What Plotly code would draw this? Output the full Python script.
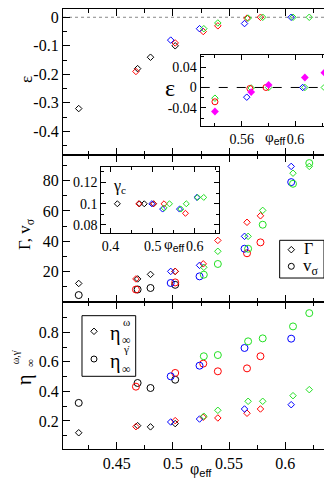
import plotly.graph_objects as go

# ---------------- data ----------------
phi_black = [0.416, 0.4685, 0.48, 0.502]
phi_red = [0.467, 0.502, 0.527, 0.54, 0.566, 0.578]
phi_blue = [0.498, 0.5237, 0.5638, 0.6054]
phi_green = [0.5275, 0.54, 0.567, 0.58, 0.607, 0.6215]

eps_black = [-0.32, -0.18, -0.14, -0.10]
eps_red = [-0.19, -0.09, -0.05, -0.03, -0.003, 0.0]
eps_blue = [-0.08, -0.04, -0.022, 0.0]
eps_green = [-0.04, -0.02, -0.003, 0.0, 0.0, 0.0]

gam_black = [12, 15, 18, 20]
gam_red = [15, 20, 25, 40.5, 52.5, 56.8]
gam_blue = [20, 24, 43.2, 89.5]
gam_green = [22.7, 33.3, 43.2, 60.4, 85, 89.5]

vs_black = [4.3, 8, 9, 11.1]
vs_red = [8, 12.7, None, None, 32, 39.2]
vs_blue = [12.3, 16.7, 35, 79.1]
vs_green = [17.8, 24.9, 35, 50.9, 78, 91.7]

etaw_black = [0.12, 0.168, 0.16, 0.182]
etaw_red = [0.161, 0.202, 0.225, 0.22, 0.252, 0.281]
etaw_blue = [0.193, 0.213, 0.281, 0.31]
etaw_green = [0.232, 0.272, 0.333, 0.333, 0.371, 0.412]

etag_black = [0.322, 0.457, 0.423, 0.479]
etag_red = [0.432, 0.525, 0.588, 0.536, 0.556, 0.638]
etag_blue = [0.502, 0.574, 0.694, 0.757]
etag_green = [0.638, 0.646, 0.739, 0.759, 0.84, 0.93]

gc_black = [0.1, 0.1, 0.1, 0.1]
gc_red = [0.1, 0.1, 0.1, None, None, 0.091]
gc_blue = [0.1, 0.095, 0.095, 0.106]
gc_green = [0.096, 0.1, 0.095, 0.1, 0.106, 0.106]

# inset epsilon (zoom)
in_phi_red = [0.54, 0.566, 0.578]
in_eps_red = [-0.028, -0.002, 0.0]
in_phi_blue = [0.5637, 0.6054]
in_eps_blue = [-0.019, 0.0]
in_phi_green = [0.54, 0.567, 0.58, 0.607, 0.6215]
in_eps_green = [-0.021, -0.001, 0.0, 0.0, 0.0]
in_phi_mag = [0.54, 0.567, 0.58, 0.607, 0.6215]
in_eps_mag = [-0.047, -0.009, 0.005, 0.0195, 0.029]

# tick labels
x_ticks = [0.45, 0.5, 0.55, 0.6]
x_ticktext = ["0.45", "0.5", "0.55", "0.6"]
eps_ticks = [0, -0.1, -0.2, -0.3, -0.4]
eps_ticktext = ["0", "-0.1", "-0.2", "-0.3", "-0.4"]
gam_ticks = [20, 40, 60, 80]
gam_ticktext = ["20", "40", "60", "80"]
eta_ticks = [0.2, 0.4, 0.6, 0.8]
eta_ticktext = ["0.2", "0.4", "0.6", "0.8"]
in1_xticks = [0.56, 0.6]
in1_xticktext = ["0.56", "0.6"]
in1_yticks = [0.04, 0, -0.04]
in1_yticktext = ["0.04", "0", "-0.04"]
in2_xticks = [0.4, 0.5, 0.6]
in2_xticktext = ["0.4", "0.5", "0.6"]
in2_yticks = [0.08, 0.1, 0.12]
in2_yticktext = ["0.08", "0.1", "0.12"]

# legend key placement (paper fractions) and symbols
key_x = [0.8272, 0.8272, 0.1123, 0.1123]
key_y = [0.453, 0.4152, 0.2675, 0.2045]
key_symbols = ["diamond-open", "circle-open", "diamond-open", "circle-open"]

# ---------------- style ----------------
SERIF = "Liberation Serif, Times New Roman, serif"
BLACK, RED, BLUE, GREEN, MAG = "#000000", "#ff0000", "#0000ff", "#22e022", "#ff00ff"

fig = go.Figure()


def add(x, y, color, symbol, xa, ya, size=5, width=1):
    fig.add_trace(go.Scatter(
        x=x, y=y, mode="markers", xaxis=xa, yaxis=ya, showlegend=False,
        hoverinfo="skip" if xa == "x6" else None,
        marker=dict(symbol=symbol, size=size, color=color,
                    line=dict(color=color, width=width)),
    ))


groups = [
    (phi_black, BLACK, eps_black, gam_black, vs_black, etaw_black, etag_black, gc_black),
    (phi_red, RED, eps_red, gam_red, vs_red, etaw_red, etag_red, gc_red),
    (phi_blue, BLUE, eps_blue, gam_blue, vs_blue, etaw_blue, etag_blue, gc_blue),
    (phi_green, GREEN, eps_green, gam_green, vs_green, etaw_green, etag_green, gc_green),
]

for phi, col, eps, gam, vs, ew, eg, gc in groups:
    add(phi, eps, col, "diamond-open", "x3", "y3")
    add(phi, gam, col, "diamond-open", "x2", "y2")
    add(phi, vs, col, "circle-open", "x2", "y2", size=7)
    add(phi, ew, col, "diamond-open", "x", "y")
    add(phi, eg, col, "circle-open", "x", "y", size=7)
    add(phi, gc, col, "diamond-open", "x5", "y5", size=4.6)

add(in_phi_green, in_eps_green, GREEN, "diamond-open", "x4", "y4")
add(in_phi_red, in_eps_red, RED, "circle-open", "x4", "y4", size=6)
add(in_phi_blue, in_eps_blue, BLUE, "diamond-open", "x4", "y4")
add(in_phi_mag, in_eps_mag, MAG, "diamond", "x4", "y4", size=6, width=0)

# legend keys on an invisible overlay axis spanning the plot area
for kx, ky, ks in zip(key_x, key_y, key_symbols):
    add([kx], [ky], BLACK, ks, "x6", "y6", size=5 if "diamond" in ks else 6)

base = dict(showline=True, linecolor="black", linewidth=1.2, mirror="ticks",
            ticks="inside", ticklen=7, tickwidth=1, tickcolor="black",
            showgrid=False, zeroline=False,
            tickfont=dict(family=SERIF, size=16, color="black"))
inset = dict(base, ticklen=5, tickfont=dict(family=SERIF, size=14, color="black"))
hidden = dict(domain=[0, 1], range=[0, 1], visible=False, showgrid=False, zeroline=False,
              fixedrange=True)

XR = [0.402, 0.648]
xminor = dict(ticks="inside", ticklen=4, tickcolor="black", dtick=0.025, tick0=0, showgrid=False)

fig.update_layout(
    width=332, height=480,
    margin=dict(l=55, r=1, t=1, b=39),
    paper_bgcolor="white", plot_bgcolor="rgba(0,0,0,0)",
    xaxis=dict(base, domain=[0, 1], range=XR, anchor="y", tickmode="array",
               tickvals=x_ticks, ticktext=x_ticktext, minor=xminor),
    xaxis2=dict(base, domain=[0, 1], range=XR, anchor="y2", tickmode="array",
                tickvals=x_ticks, showticklabels=False, minor=xminor),
    xaxis3=dict(base, domain=[0, 1], range=XR, anchor="y3", tickmode="array",
                tickvals=x_ticks, showticklabels=False, minor=xminor),
    yaxis=dict(base, domain=[0, 0.334], range=[0.01, 1.005], anchor="x",
               tickmode="array", tickvals=eta_ticks, ticktext=eta_ticktext,
               minor=dict(ticks="inside", ticklen=4, tickcolor="black", dtick=0.1, tick0=0)),
    yaxis2=dict(base, domain=[0.334, 0.668], range=[-0.3, 97], anchor="x2",
                tickmode="array", tickvals=gam_ticks, ticktext=gam_ticktext,
                minor=dict(ticks="inside", ticklen=4, tickcolor="black", dtick=10, tick0=0)),
    yaxis3=dict(base, domain=[0.668, 1], range=[-0.483, 0.029], anchor="x3",
                tickmode="array", tickvals=eps_ticks, ticktext=eps_ticktext,
                minor=dict(ticks="inside", ticklen=4, tickcolor="black", dtick=0.05, tick0=0)),
    xaxis4=dict(inset, domain=[0.499, 0.993], range=[0.5294, 0.631], anchor="y4",
                tickmode="array", tickvals=in1_xticks, ticktext=in1_xticktext,
                minor=dict(ticks="inside", ticklen=3, tickcolor="black", dtick=0.02, tick0=0)),
    yaxis4=dict(inset, domain=[0.7334, 0.896], range=[-0.076, 0.064], anchor="x4",
                tickmode="array", tickvals=in1_yticks, ticktext=in1_yticktext,
                minor=dict(ticks="inside", ticklen=3, tickcolor="black", dtick=0.02, tick0=0)),
    xaxis5=dict(inset, domain=[0.139, 0.564], range=[0.378, 0.657], anchor="y5",
                tickmode="array", tickvals=in2_xticks, ticktext=in2_xticktext,
                minor=dict(ticks="inside", ticklen=3, tickcolor="black", dtick=0.05, tick0=0)),
    yaxis5=dict(inset, domain=[0.4916, 0.6416], range=[0.0727, 0.135], anchor="x5",
                tickmode="array", tickvals=in2_yticks, ticktext=in2_yticktext,
                minor=dict(ticks="inside", ticklen=3, tickcolor="black", dtick=0.01, tick0=0)),
    xaxis6=dict(hidden, anchor="y6"),
    yaxis6=dict(hidden, anchor="x6"),
)

# reference lines
fig.add_shape(type="line", xref="x3 domain", yref="y3", x0=0, x1=1, y0=0, y1=0,
              line=dict(color="#888888", width=1, dash="dot"), layer="below")
fig.add_shape(type="line", xref="x4 domain", yref="y4", x0=0, x1=1, y0=0, y1=0,
              line=dict(color="black", width=1, dash="dash"), layer="below")

# legend boxes
fig.add_shape(type="rect", xref="paper", yref="paper", x0=0.785, x1=0.9457, y0=0.3886, y1=0.4743,
              line=dict(color="black", width=1), layer="below")
fig.add_shape(type="rect", xref="paper", yref="paper", x0=0.0688, x1=0.2634, y0=0.1652, y1=0.303,
              line=dict(color="black", width=1), layer="below")

EFF = "<sub><span style='font-family:Liberation Sans'>eff</span></sub>"


def ann(x, y, text, size=16, family=SERIF, angle=0):
    fig.add_annotation(x=x, y=y, xref="paper", yref="paper", text=text, showarrow=False,
                       xanchor="center", yanchor="middle", textangle=angle,
                       font=dict(family=family, size=size, color="black"))


# legend 2 texts
ann(0.8913, 0.4568, "Γ", size=16)
ann(0.8986, 0.4136, "v<sub>σ</sub>", size=17)
# legend 3 texts
ann(0.1873, 0.2636, "η", size=20)
ann(0.2293, 0.2894, "ω", size=11)
ann(0.2293, 0.2480, "∞", size=12)
ann(0.1873, 0.1993, "η", size=20)
ann(0.2293, 0.2274, "γ̇", size=11)
ann(0.2293, 0.1811, "∞", size=12)

# axis titles
ann(0.5, -0.046, "φ" + EFF, size=16)
ann(-0.134, 0.8386, "ε", size=17, angle=-90)
ann(-0.134, 0.4886, "Γ, v<sub>σ</sub>", size=17, angle=-90)
ann(-0.1413, 0.1568, "η", size=20, angle=-90)
ann(-0.172, 0.2098, "ω,γ̇", size=10, angle=-90)
ann(-0.122, 0.1962, "∞", size=11, angle=-90)

# inset labels
ann(0.3877, 0.8205, "ε", size=24)
ann(0.768, 0.7068, "φ" + EFF, size=15)
ann(0.2065, 0.5955, "γ<sub>c</sub>", size=16)
ann(0.4026, 0.4636, "φ" + EFF, size=15)

fig.write_html("out.html")
